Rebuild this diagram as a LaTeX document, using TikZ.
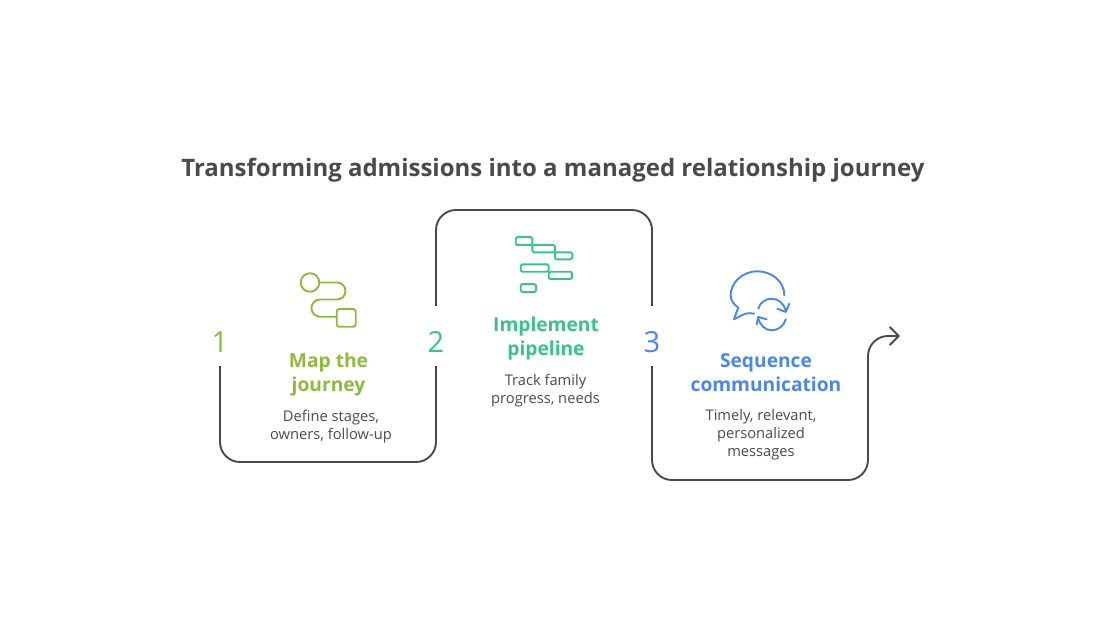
\documentclass[tikz,border=0pt]{standalone}
\usepackage{fontspec}
\setmainfont{Open Sans}
\usetikzlibrary{arrows.meta}
\definecolor{inkgray}{HTML}{4A4A4A}
\definecolor{mapgreen}{HTML}{8DBB3C}
\definecolor{pipeteal}{HTML}{37C585}
\definecolor{seqblue}{HTML}{4B87E8}
\tikzset{
  flow/.style={draw=inkgray,line width=1.9pt,rounded corners=20pt},
  num/.style={anchor=base,inner sep=0pt,text height=46pt,text depth=14pt,font=\fontsize{29}{29}\selectfont},
  head/.style={align=center,inner sep=0pt,font=\fontsize{19.2}{24}\selectfont\bfseries},
  desc/.style={align=center,inner sep=0pt,text=inkgray,font=\fontsize{14.7}{18}\selectfont},
  icon/.style={line width=1.9pt,line join=round,line cap=round}
}
\begin{document}
\begin{tikzpicture}[x=1pt,y=-1pt]
  \useasboundingbox (0,0) rectangle (1120,630);
  % Title
  \node[inner sep=0pt,text=inkgray,font=\fontsize{24}{30}\selectfont\bfseries] (title) at (553,170) {Transforming admissions into a managed relationship journey};
  % Step numbers
  \node[num,text=mapgreen] (num1) at (220,352) {1};
  \node[num,text=pipeteal] (num2) at (436,352) {2};
  \node[num,text=seqblue] (num3) at (652,352) {3};
  \coordinate (tipend) at (900,336);
  % Connectors
  \draw[flow] (num1.south) -- (num1.south |- 0,462) -- (num2.south |- 0,462) -- (num2.south);
  \draw[flow] (num2.north) -- (num2.north |- 0,210) -- (num3.north |- 0,210) -- (num3.north);
  \draw[flow,-{Straight Barb[length=9pt,width=18pt,line width=1.9pt]}] (num3.south) -- (num3.south |- 0,480) -- (868,480) -- (868,336) -- (tipend);
  % Headings
  \node[head,text=mapgreen] (head1) at (328.5,375) {Map the\\journey};
  \node[head,text=pipeteal] (head2) at (546,339) {Implement\\pipeline};
  \node[head,text=seqblue] (head3) at (766,373) {Sequence\\communication};
  % Descriptions
  \node[desc] (desc1) at (331,426.5) {Define stages,\\owners, follow-up};
  \node[desc] (desc2) at (545.5,390.5) {Track family\\progress, needs};
  \node[desc] (desc3) at (761,435) {Timely, relevant,\\personalized\\messages};
  % Icon 1: route
  \draw[icon,mapgreen] (310,282.5) circle (9.3);
  \draw[icon,mapgreen] (319.5,282.5) -- (337,282.5) arc (-90:90:8.5) -- (320,299.5) arc (270:90:8.6) -- (336.7,316.7);
  \draw[icon,mapgreen,rounded corners=2.5pt] (336.7,309) rectangle (355.7,326.7);
  % Icon 2: gantt bars
  \foreach \xa/\ya/\xb/\yb in {515.7/237/532.3/245,532.3/245/555/252.3,555/252.3/572.3/259.3,520.7/264.3/548.7/271.7,548.7/271.7/572/279,520.7/284/536/292}
    \draw[icon,pipeteal,rounded corners=1.5pt] (\xa,\ya) rectangle (\xb,\yb);
  % Icon 3: speech bubble with cycle arrows
  \draw[icon,seqblue] (784.3,295.3) .. controls (784.5,281) and (771,271.3) .. (757.5,271.3) .. controls (742,271.3) and (730.7,283) .. (730.7,295) .. controls (730.7,301) and (734,304.5) .. (738.3,307.5) -- (734,319.3) -- (745,313.7) .. controls (748,313) and (751,313) .. (754.3,313.7);
  \draw[icon,seqblue] (758.3,308.7) .. controls (760,302) and (766,298.7) .. (771.7,298.7) .. controls (778,298.7) and (784,303) .. (785.7,311);
  \draw[icon,seqblue] (777.3,308.7) -- (785.7,312) -- (789.3,303.7);
  \draw[icon,seqblue] (785.7,319.3) .. controls (784,326) and (778,330.3) .. (771.7,330.3) .. controls (765,330.3) and (759.5,325) .. (758,317);
  \draw[icon,seqblue] (756.7,324.3) -- (758.3,317) -- (766.7,319.3);
\end{tikzpicture}
\end{document}
